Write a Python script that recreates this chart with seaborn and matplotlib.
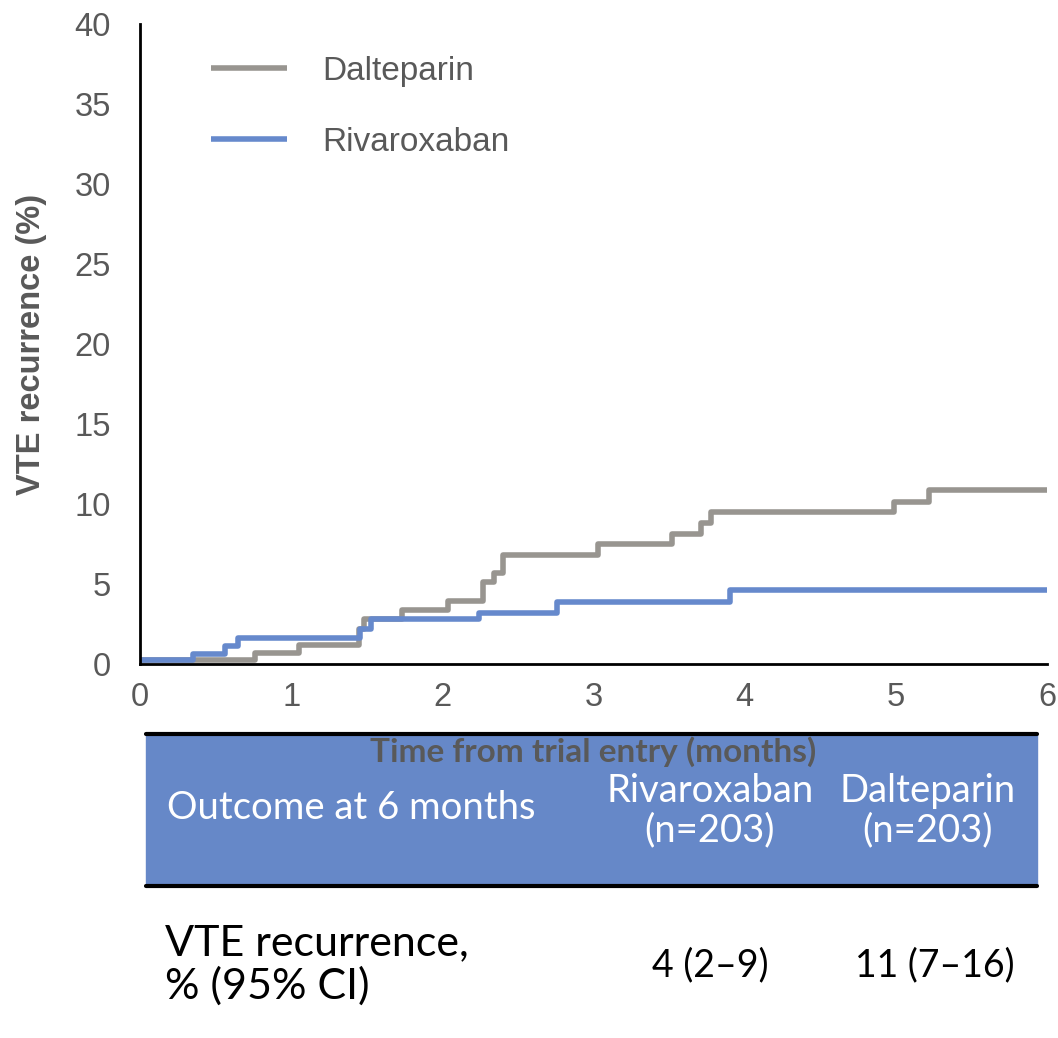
import numpy as np
import pandas as pd
import matplotlib
matplotlib.use("Agg")
import matplotlib.pyplot as plt
import seaborn as sns
from matplotlib.patches import Rectangle
from matplotlib.lines import Line2D

# ---- data ----
dalt_t = [0.0, 0.76, 1.05, 1.45, 1.48, 1.73, 2.04, 2.27, 2.34, 2.40, 3.03, 3.52, 3.71, 3.78, 4.99, 5.22, 6.0]
dalt_y = [0.25, 0.67, 1.19, 2.2, 2.8, 3.37, 3.96, 5.1, 5.7, 6.8, 7.5, 8.1, 8.8, 9.5, 10.15, 10.9, 10.9]
riva_t = [0.0, 0.35, 0.56, 0.65, 1.455, 1.53, 2.24, 2.76, 3.90, 6.0]
riva_y = [0.25, 0.6, 1.1, 1.6, 2.2, 2.8, 3.2, 3.9, 4.6, 4.6]
series_names = ["Dalteparin", "Rivaroxaban"]
x_ticks = [0, 1, 2, 3, 4, 5, 6]
y_ticks = [0, 5, 10, 15, 20, 25, 30, 35, 40]

header_left = "Outcome at 6 months"
header_cols = ["Rivaroxaban\n(n=203)", "Dalteparin\n(n=203)"]
row_label = "VTE recurrence,\n% (95% CI)"
row_values = ["4 (2–9)", "11 (7–16)"]

GRAY = "#989590"
BLUE = "#6689CC"
TXT = "#595959"

df = pd.concat([
    pd.DataFrame({"t": dalt_t, "y": dalt_y, "arm": series_names[0]}),
    pd.DataFrame({"t": riva_t, "y": riva_y, "arm": series_names[1]}),
])

sns.set_theme(style="white")
plt.rcParams["font.family"] = ["Liberation Sans", "DejaVu Sans"]

fig = plt.figure(figsize=(10.58, 10.38), dpi=100)
ax = fig.add_axes([140/1058, 1-664/1038, (1047-140)/1058, (664-24)/1038])

sns.lineplot(data=df, x="t", y="y", hue="arm", palette=[GRAY, BLUE],
             drawstyle="steps-post", estimator=None, linewidth=4,
             legend=False, ax=ax)

ax.set_xlim(0, 6)
ax.set_ylim(0, 40)
ax.set_xticks(x_ticks)
ax.set_yticks(y_ticks)
ax.tick_params(axis="both", colors="black", labelcolor=TXT, labelsize=23.5,
               direction="out", length=13, width=2)
ax.tick_params(axis="y", pad=8)
ax.tick_params(axis="x", pad=0)
for s in ["top", "right"]:
    ax.spines[s].set_visible(False)
for s in ["left", "bottom"]:
    ax.spines[s].set_color("black")
    ax.spines[s].set_linewidth(2)
ax.set_ylabel("VTE recurrence (%)", fontsize=23.5, fontweight="bold", color=TXT, labelpad=20)
ax.set_xlabel("")

# legend
handles = [Line2D([0], [0], color=GRAY, lw=4, solid_capstyle="butt"),
           Line2D([0], [0], color=BLUE, lw=4, solid_capstyle="butt")]
leg = ax.legend(handles, series_names, loc="upper left", bbox_to_anchor=(0.045, 0.997),
                frameon=False, fontsize=24, handlelength=2.3, handletextpad=1.05,
                labelspacing=1.2, labelcolor=TXT)

# table
W, H = 1058, 1038
fx = lambda px: px / W
fy = lambda py: 1 - py / H
fig.add_artist(Rectangle((fx(146), fy(886)), fx(1037) - fx(146), fy(733) - fy(886),
                         transform=fig.transFigure, color="#6688C8", zorder=1))
fig.add_artist(Line2D([fx(146), fx(1037)], [fy(734), fy(734)], transform=fig.transFigure,
                      color="black", lw=3, zorder=2))
fig.add_artist(Line2D([fx(146), fx(1037)], [fy(886), fy(886)], transform=fig.transFigure,
                      color="black", lw=3, zorder=2))

tf = ["Lato", "DejaVu Sans"]
fig.text(fx(593), fy(752), "Time from trial entry (months)", ha="center", va="center",
         fontsize=24, fontweight="bold", color=TXT, family=tf, zorder=3)
fig.text(fx(167), fy(808), header_left, ha="left", va="center", fontsize=27.5,
         color="white", family=tf, zorder=3)
fig.text(fx(710), fy(811), header_cols[0], ha="center", va="center", fontsize=27.5,
         color="white", family=tf, linespacing=1.12, zorder=3)
fig.text(fx(928), fy(811), header_cols[1], ha="center", va="center", fontsize=27.5,
         color="white", family=tf, linespacing=1.12, zorder=3)
fig.text(fx(165), fy(965), row_label, ha="left", va="center", fontsize=31,
         color="black", family=tf, linespacing=1.1, zorder=3)
fig.text(fx(710), fy(965), row_values[0], ha="center", va="center", fontsize=27,
         color="black", family=tf, zorder=3)
fig.text(fx(935), fy(965), row_values[1], ha="center", va="center", fontsize=27,
         color="black", family=tf, zorder=3)

fig.savefig("out.png", dpi=100)
